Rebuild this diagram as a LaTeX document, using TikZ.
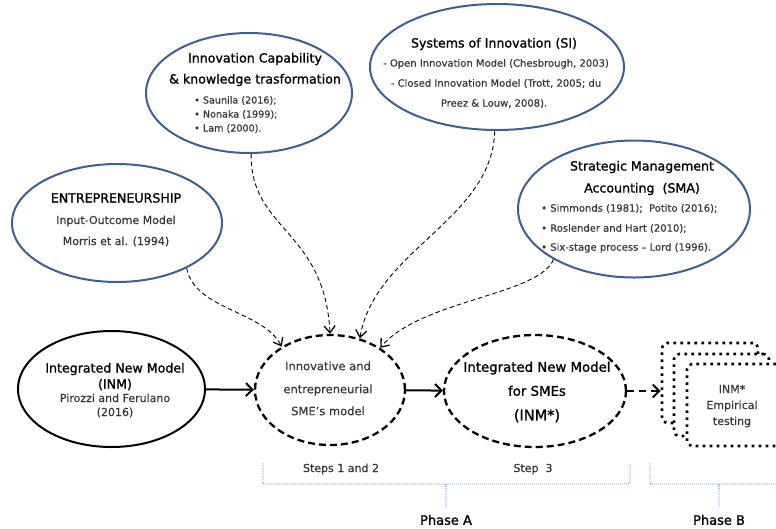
\documentclass[tikz,border=0pt]{standalone}
\usepackage{fontspec}
\setmainfont{DejaVu Sans}
\newfontfamily\ttlfont[FakeBold=1.2]{DejaVu Sans}
\newfontfamily\bdyfont[FakeBold=0.5]{DejaVu Sans}
\usetikzlibrary{arrows.meta,shapes.geometric}
\definecolor{ellblue}{RGB}{60,95,148}
\definecolor{brblue}{RGB}{95,145,210}
\definecolor{txtgray}{RGB}{55,55,55}
\begin{document}
\begin{tikzpicture}[x=1pt,y=-1pt,
  blueell/.style={ellipse, draw=ellblue, line width=2pt, inner sep=0pt},
  blackell/.style={ellipse, draw=black, line width=2pt, inner sep=0pt},
  dashell/.style={ellipse, draw=black, line width=2.3pt, dash pattern=on 7pt off 4pt, inner sep=0pt},
  ttl/.style={font=\ttlfont\fontsize{12.6}{15}\selectfont, text=black, inner sep=0pt, text height=9pt, text depth=0pt},
  bigttl/.style={font=\ttlfont\fontsize{13.3}{16}\selectfont, text=black, inner sep=0pt, text height=9.5pt, text depth=0pt},
  hugettl/.style={font=\ttlfont\fontsize{14.5}{17}\selectfont, text=black, inner sep=0pt, text height=10.5pt, text depth=0pt},
  bdy/.style={font=\bdyfont\fontsize{9.6}{11}\selectfont, text=txtgray, inner sep=0pt, text height=7pt, text depth=0pt},
  bdyM/.style={font=\bdyfont\fontsize{10}{12}\selectfont, text=txtgray, inner sep=0pt, text height=7.3pt, text depth=0pt},
  bdyL/.style={font=\bdyfont\fontsize{11}{13}\selectfont, text=txtgray, inner sep=0pt, text height=8pt, text depth=0pt},
  bdyXL/.style={font=\bdyfont\fontsize{11.5}{13}\selectfont, text=txtgray, inner sep=0pt, text height=8.4pt, text depth=0pt},
  flow/.style={line width=2pt, -{Straight Barb[length=6.5pt,width=13pt,line width=2pt]}},
  infl/.style={line width=0.9pt, dash pattern=on 4.5pt off 3pt, -{Straight Barb[length=7pt,width=11pt,line width=1.3pt]}},
  dotbox/.style={draw, line width=2.6pt, dash pattern=on 2.6pt off 4.4pt, rounded corners=5pt, fill=white, inner sep=0pt},
  brk/.style={draw=brblue, line width=0.8pt, dash pattern=on 1pt off 1pt},
  phase/.style={font=\ttlfont\fontsize{13}{15}\selectfont, text=black, inner sep=0pt, text height=9.5pt, text depth=0pt}
]
\useasboundingbox (0,0) rectangle (776,528);
\clip (0,0) rectangle (776,528);

% Innovation Capability
\node[blueell, minimum width=206pt, minimum height=120pt] (ic) at (249,93) {};
\node[ttl] (ic1) at (255,58) {Innovation Capability};
\node[ttl] (ic2) at (255,79) {\& knowledge trasformation};
\node[bdy, anchor=west] (ic3) at (194,100) {• Saunila (2016);};
\node[bdy, anchor=west] (ic4) at (194,114) {• Nonaka (1999);};
\node[bdy, anchor=west] (ic5) at (194,128) {• Lam (2000).};

% Systems of Innovation
\node[blueell, minimum width=254pt, minimum height=126pt] (si) at (497,67) {};
\node[ttl] (si1) at (494,43) {Systems of Innovation (SI)};
\node[bdyM] (si2) at (496,63) {- Open Innovation Model (Chesbrough, 2003)};
\node[bdyM] (si3) at (496,83) {- Closed Innovation Model (Trott, 2005; du};
\node[bdyM] (si4) at (494,103) {Preez \& Louw, 2008).};

% SMA
\node[blueell, minimum width=232pt, minimum height=137pt] (sma) at (634,209) {};
\node[ttl] (sma1) at (642,166) {Strategic Management};
\node[ttl] (sma2) at (642,188) {Accounting\ \ (SMA)};
\node[bdyM, anchor=west] (sma3) at (541,208) {• Simmonds (1981);\ \ Potito (2016);};
\node[bdyM, anchor=west] (sma4) at (541,228) {• Roslender and Hart (2010);};
\node[bdyM, anchor=west] (sma5) at (541,247) {• Six-stage process – Lord (1996).};

% Entrepreneurship
\node[blueell, minimum width=210pt, minimum height=118pt] (ent) at (117,223) {};
\node[ttl] (ent1) at (116,198) {ENTREPRENEURSHIP};
\node[bdyL] (ent2) at (116,220) {Input-Outcome Model};
\node[bdyL] (ent3) at (116,241) {Morris et al. (1994)};

% INM
\node[blackell, minimum width=187pt, minimum height=116pt] (inm) at (111.5,389) {};
\node[ttl] (inm1) at (115,368) {Integrated New Model};
\node[ttl] (inm2) at (115,384) {(INM)};
\node[bdyL] (inm3) at (115,398) {Pirozzi and Ferulano};
\node[bdyL] (inm4) at (115,412) {(2016)};

% Innovative and entrepreneurial
\node[dashell, minimum width=150pt, minimum height=110pt] (inn) at (330,390) {};
\node[bdyXL] (inn1) at (328,366) {Innovative and};
\node[bdyXL] (inn2) at (328,389) {entrepreneurial};
\node[bdyXL] (inn3) at (328,411) {SME’s model};

% INM*
\node[dashell, minimum width=182pt, minimum height=112pt] (inms) at (535,391) {};
\node[bigttl] (inms1) at (537,367) {Integrated New Model};
\node[bigttl] (inms2) at (537,391) {for SMEs};
\node[hugettl] (inms3) at (537,415) {(INM*)};

% stacked boxes
\node[dotbox, minimum width=96pt, minimum height=80pt] (b1) at (710,383) {};
\node[dotbox, minimum width=95pt, minimum height=82pt] (b2) at (721.5,395) {};
\node[dotbox, minimum width=143pt, minimum height=82pt] (b3) at (758.5,405) {};
\node[bdyL] (bt1) at (732,389) {INM*};
\node[bdyL] (bt2) at (732,405) {Empirical};
\node[bdyL] (bt3) at (732,421) {testing};

% connectors
\draw[flow] (inm) -- (inn);
\draw[flow] (inn) -- (inms);
\draw[flow, dash pattern=on 7pt off 5pt] (inms.east) -- (inms.east -| b1.west);

\draw[infl] (ent.327) .. controls (195,310) and (262,310) .. (inn.138);
\draw[infl] (ic.272) .. controls (250,230) and (325,230) .. (inn.90);
\draw[infl] (si.268) .. controls (492,220) and (375,250) .. (inn.60);
\draw[infl] (sma.212) .. controls (540,295) and (420,300) .. (inn.40);

% brackets
\draw[brk] (263,463) -- (263,480) .. controls (263,484) .. (267,484) -- (441,484) .. controls (446,484) .. (446,489) -- (446,508);
\draw[brk] (446,489) .. controls (446,484) .. (451,484) -- (626,484) .. controls (630,484) .. (630,480) -- (630,463);
\draw[brk] (650,463) -- (650,480) .. controls (650,484) .. (654,484) -- (714,484) .. controls (719,484) .. (719,489) -- (719,508);
\draw[brk] (719,489) .. controls (719,484) .. (724,484) -- (790,484);

\node[bdyL] (st12) at (341,468) {Steps 1 and 2};
\node[bdyL] (st3) at (533,468) {Step\ \ 3};
\node[phase] (pa) at (446,520) {Phase A};
\node[phase] (pb) at (719,520) {Phase B};
\end{tikzpicture}
\end{document}
